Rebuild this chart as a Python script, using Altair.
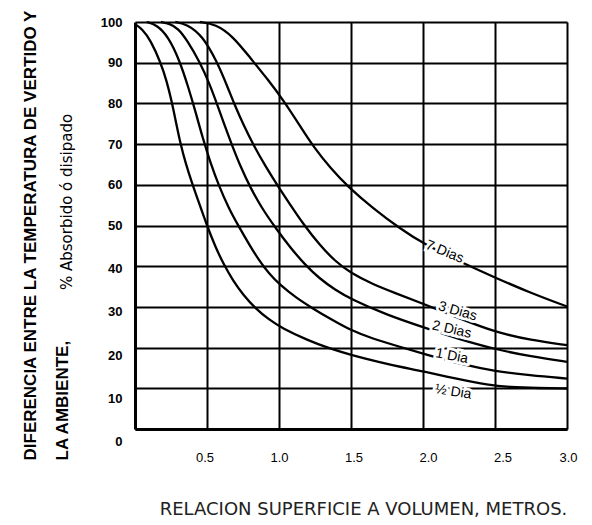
import altair as alt
import pandas as pd

# ---- data ----
half_x = [0.0, 0.05, 0.107, 0.179, 0.22, 0.255, 0.285, 0.315, 0.35, 0.395, 0.45, 0.50, 0.555, 0.615, 0.68, 0.75, 0.84, 0.93, 1.02, 1.2, 1.35, 1.5, 1.7, 1.85, 2.0, 2.25, 2.45, 2.6, 2.8, 3.0]
half_y = [99.5, 98.3, 95.6, 90.0, 85.5, 80.5, 75.3, 70.2, 65.5, 60.5, 55.0, 50.0, 45.0, 40.5, 36.5, 33.0, 29.5, 26.9, 24.8, 21.8, 19.8, 18.2, 16.4, 15.2, 14.2, 12.2, 10.8, 10.3, 10.05, 9.95]

one_x = [0.08, 0.15, 0.23, 0.31, 0.37, 0.42, 0.47, 0.525, 0.58, 0.65, 0.72, 0.79, 0.86, 0.93, 1.01, 1.12, 1.24, 1.35, 1.5, 1.65, 1.82, 2.03, 2.28, 2.5, 2.74, 3.0]
one_y = [100, 99.3, 96.5, 90.5, 84.0, 78.0, 71.5, 65.3, 60.0, 54.3, 49.8, 45.5, 41.5, 38.2, 35.3, 32.2, 29.5, 27.2, 24.2, 22.2, 20.4, 18.2, 15.8, 14.2, 13.2, 12.4]

two_x = [0.18, 0.24, 0.30, 0.36, 0.45, 0.52, 0.57, 0.62, 0.675, 0.735, 0.80, 0.88, 0.98, 1.08, 1.18, 1.28, 1.39, 1.5, 1.75, 2.0, 2.25, 2.5, 2.75, 3.0]
two_y = [100, 99.6, 98.4, 95.6, 90.2, 84.6, 79.8, 74.8, 69.6, 64.3, 59.4, 54.3, 49.2, 44.5, 40.4, 37.0, 34.2, 31.9, 28.0, 25.0, 22.1, 19.6, 17.8, 16.5]

three_x = [0.28, 0.36, 0.47, 0.57, 0.64, 0.69, 0.755, 0.825, 0.905, 0.99, 1.08, 1.17, 1.28, 1.39, 1.5, 1.65, 1.8, 2.0, 2.25, 2.5, 2.75, 3.0]
three_y = [100, 99.5, 96.6, 90.2, 84.3, 79.8, 74.6, 69.6, 64.6, 59.8, 55.0, 50.3, 45.3, 41.2, 38.3, 35.6, 33.5, 30.8, 27.2, 23.8, 21.8, 20.6]

seven_x = [0.45, 0.56, 0.68, 0.80, 0.92, 1.04, 1.14, 1.24, 1.36, 1.48, 1.65, 1.85, 2.0, 2.25, 2.5, 2.75, 3.0]
seven_y = [100, 99.5, 96.5, 91.2, 86.0, 80.3, 74.8, 69.3, 64.0, 59.5, 54.3, 49.0, 45.6, 41.2, 37.2, 33.4, 30.1]

series_names = ["1/2 Dia", "1 Dia", "2 Dias", "3 Dias", "7 Dias"]

label_text = ["7 Dias", "3 Dias", "2 Dias", "1 Dia", "\u00bd Dia"]
label_x = [2.15, 2.24, 2.20, 2.20, 2.21]
label_y = [43.5, 28.9, 24.4, 17.9, 9.1]
label_angle = [22, 16, 13, 11, 9]

x_ticks = [0.5, 1.0, 1.5, 2.0, 2.5, 3.0]
y_ticks = [0, 10, 20, 30, 40, 50, 60, 70, 80, 90, 100]

y_title = ["DIFERENCIA ENTRE LA TEMPERATURA DE VERTIDO Y", "LA AMBIENTE,"]
y_subtitle = ["% Absorbido \u00f3 disipado"]
x_title = "RELACION SUPERFICIE A VOLUMEN, METROS."

# ---- build tables ----
rows = []
for name, xs, ys in zip(series_names,
                        [half_x, one_x, two_x, three_x, seven_x],
                        [half_y, one_y, two_y, three_y, seven_y]):
    for xv, yv in zip(xs, ys):
        rows.append({"serie": name, "x": xv, "y": yv})
df = pd.DataFrame(rows)

lab_df = pd.DataFrame({"t": label_text, "x": label_x, "y": label_y, "a": label_angle})
sub_df = pd.DataFrame({"t": y_subtitle})

x_scale = alt.Scale(domain=[0, 3], nice=False, zero=False)
y_scale = alt.Scale(domain=[0, 100], nice=False)

x_axis = alt.Axis(
    values=x_ticks, format=".1f", grid=True, gridColor="black", gridWidth=2, gridOpacity=1,
    domain=True, domainColor="black", domainWidth=3, ticks=False,
    labelPadding=22, labelFont="Liberation Sans", labelFontSize=13, labelColor="black",
    labelOffset={"expr": "datum.value * 5 - 5"},
    title=x_title, titleFont="DejaVu Sans", titleFontSize=18, titleFontWeight="normal",
    titleColor="#222", titleX=228, titleY=80, titleAlign="center", titleBaseline="middle",
)
y_axis = alt.Axis(
    values=y_ticks, grid=True, gridColor="black", gridWidth=2, gridOpacity=1,
    domain=True, domainColor="black", domainWidth=3, ticks=False,
    labelPadding=13, labelFont="Liberation Sans", labelFontSize=13, labelFontWeight="bold",
    labelColor="black", labelOffset={"expr": "max(0, (50 - datum.value) / 4)"},
    title=y_title, titleFont="Liberation Sans Narrow, Liberation Sans", titleFontSize=17,
    titleFontWeight="bold", titleColor="black", titleAngle=270, titleAlign="left",
    titleBaseline="alphabetic", titleX=-100, titleY=438, titleLineHeight=32,
)

lines = alt.Chart(df).mark_line(color="black", strokeWidth=2.3, interpolate="basis").encode(
    x=alt.X("x:Q", scale=x_scale, axis=x_axis),
    y=alt.Y("y:Q", scale=y_scale, axis=y_axis),
    detail="serie:N",
)

halo = alt.Chart(lab_df).mark_text(
    font="Liberation Sans", fontSize=14, color="white", stroke="white", strokeWidth=5.5
).encode(
    x=alt.X("x:Q", scale=x_scale), y=alt.Y("y:Q", scale=y_scale),
    text="t:N", angle=alt.Angle("a:Q", scale=None),
)
labels = alt.Chart(lab_df).mark_text(
    font="Liberation Sans", fontSize=14, color="black"
).encode(
    x=alt.X("x:Q", scale=x_scale), y=alt.Y("y:Q", scale=y_scale),
    text="t:N", angle=alt.Angle("a:Q", scale=None),
)

sub = alt.Chart(sub_df).mark_text(
    angle=270, align="left", baseline="middle", font="DejaVu Sans", fontSize=15, color="black"
).encode(text="t:N", x=alt.value(-68), y=alt.value(268))

chart = alt.layer(lines, halo, labels, sub).properties(
    width=432, height=407,
    padding={"left": 127, "top": 14, "right": 17, "bottom": 88},
    autosize=alt.AutoSizeParams(type="none"),
).configure_view(stroke="black", strokeWidth=2.5).configure(background="white")

chart.save("out.html", embed_options={"renderer": "svg", "actions": False})
